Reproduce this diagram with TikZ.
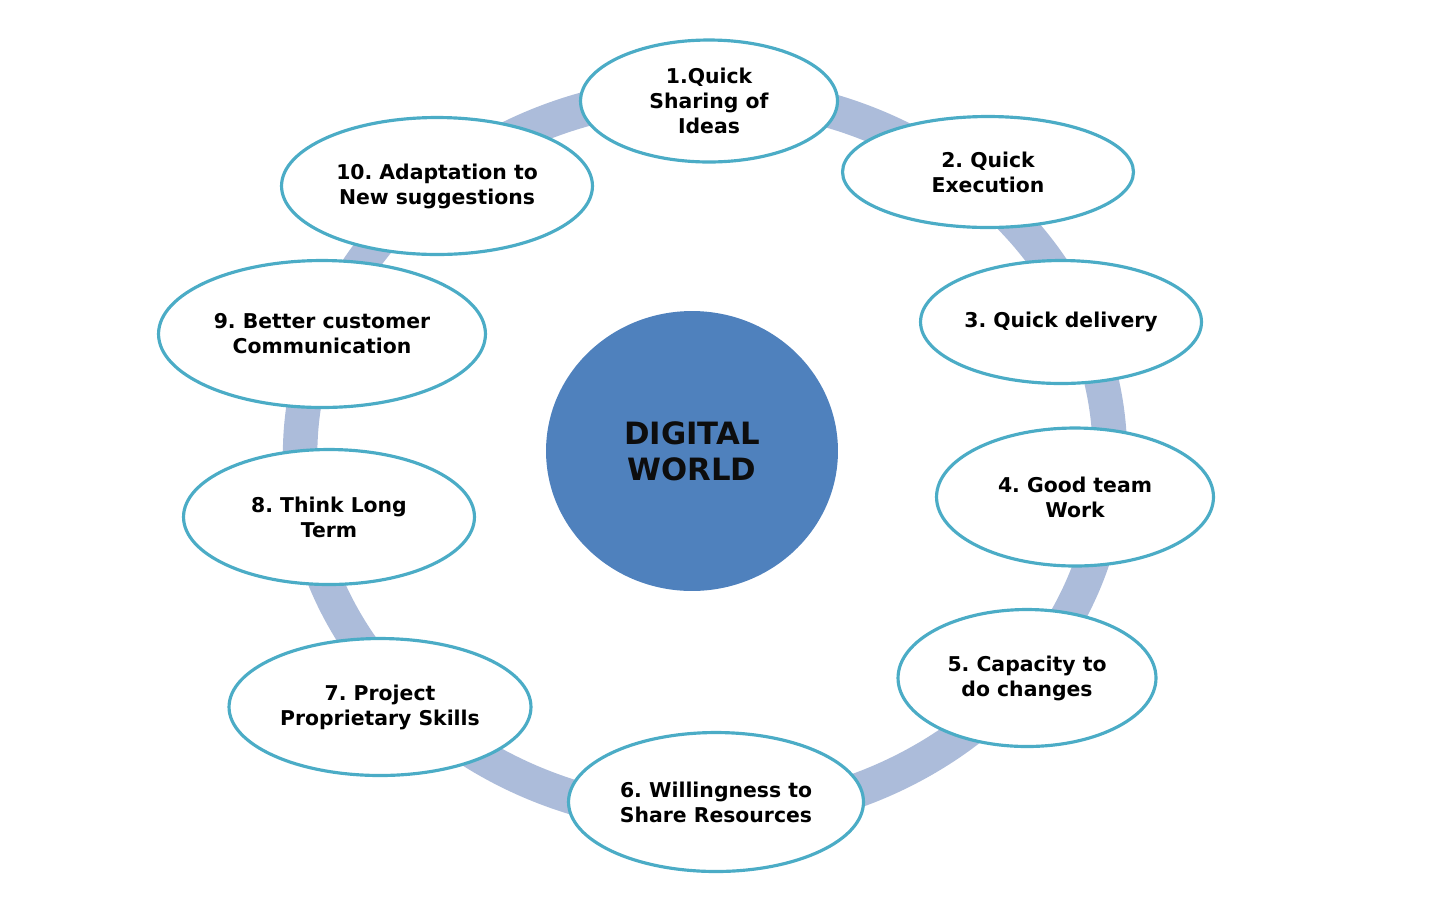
\documentclass[tikz,border=0pt]{standalone}
\usepackage{fontspec}
\setmainfont{DejaVu Sans}
\usetikzlibrary{shapes.geometric}
\frenchspacing

\definecolor{ringblue}{HTML}{ACBCDA}
\definecolor{edgeteal}{HTML}{4BACC6}
\definecolor{coreblue}{HTML}{4F81BD}

\tikzset{
    ring/.style={draw=ringblue, line width=0.69cm},
    idea/.style={ellipse, draw=edgeteal, line width=1.8pt, fill=white, inner sep=0pt,
                 align=center, font=\fontsize{11.6}{14.2}\selectfont\bfseries},
    core/.style={ellipse, fill=coreblue, inner sep=0pt, minimum width=5.84cm, minimum height=5.6cm,
                 align=center, font=\fontsize{17.5}{20.6}\selectfont\bfseries, text=black!95}
}

\begin{document}
\begin{tikzpicture}[x=0.02cm, y=-0.02cm]
\useasboundingbox (0,0) rectangle (1432,917);

% ===== background ring =====
\draw[ring] (705,455) ellipse [x radius=8.1cm, y radius=7.24cm];

% ===== centre =====
\node[core] (core) at (692,451) {DIGITAL\\WORLD};

% ===== ten ideas round the ring =====
\node[idea, minimum width=5.14cm, minimum height=2.44cm] (s1)  at (709,101)  {1.Quick\\Sharing of\\Ideas};
\node[idea, minimum width=5.82cm, minimum height=2.22cm] (s2)  at (988,172)  {2. Quick\\Execution};
\node[idea, minimum width=5.62cm, minimum height=2.46cm] (s3)  at (1061,322) {3. Quick delivery};
\node[idea, minimum width=5.54cm, minimum height=2.76cm] (s4)  at (1075,497) {4. Good team\\Work};
\node[idea, minimum width=5.16cm, minimum height=2.74cm] (s5)  at (1027,678) {5. Capacity to\\do changes};
\node[idea, minimum width=5.90cm, minimum height=2.78cm] (s6)  at (716,802)  {6. Willingness to\\Share Resources};
\node[idea, minimum width=6.04cm, minimum height=2.74cm] (s7)  at (380,707)  {7. Project\\Proprietary Skills};
\node[idea, minimum width=5.82cm, minimum height=2.70cm] (s8)  at (329,517)  {8. Think Long\\Term};
\node[idea, minimum width=6.54cm, minimum height=2.94cm] (s9)  at (322,334)  {9. Better customer\\Communication};
\node[idea, minimum width=6.22cm, minimum height=2.74cm] (s10) at (437,186)  {10. Adaptation to\\New suggestions};

\end{tikzpicture}
\end{document}
